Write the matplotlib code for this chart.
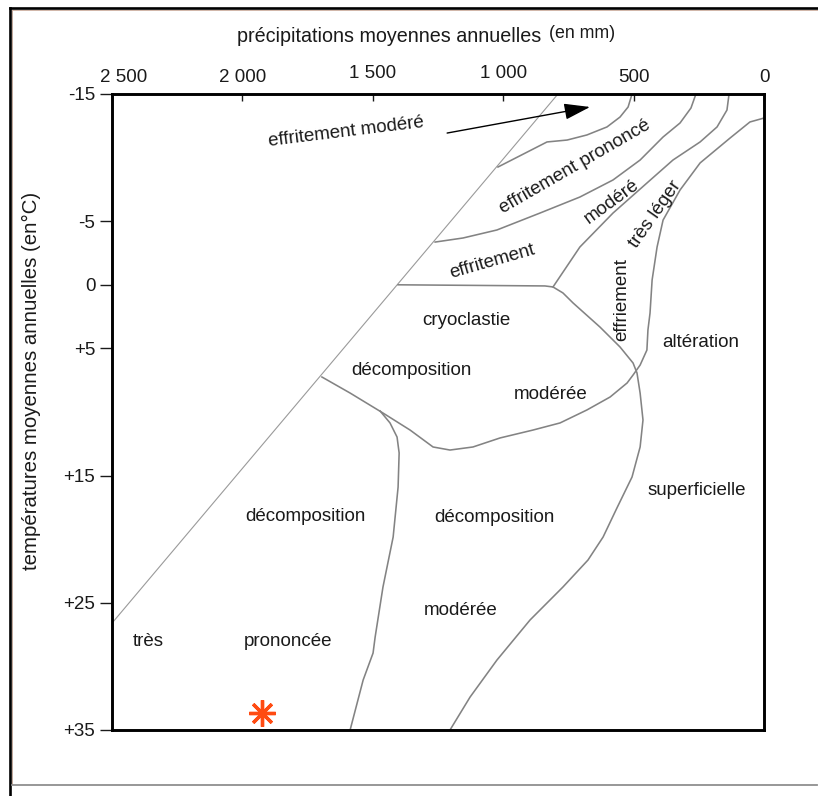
import matplotlib
matplotlib.use("Agg")
import matplotlib.pyplot as plt
from matplotlib.lines import Line2D
from matplotlib.transforms import ScaledTranslation

plt.rcParams['font.family'] = ['Liberation Sans', 'DejaVu Sans']

# ---------------- axis ticks ----------------
precip_ticks = [2500, 2000, 1500, 1000, 500, 0]
precip_labels = ["2 500", "2 000", "1 500", "1 000", "500", "0"]
temp_ticks = [-15, -5, 0, 5, 15, 25, 35]
temp_labels = ["-15", "-5", "0", "+5", "+15", "+25", "+35"]

# ---------------- boundaries (precipitation mm, temperature °C) ----------------
diag_p = [2500, 790]
diag_t = [26.6, -15.0]

prononce_top_p = [506, 521, 552, 602, 679, 755, 832, 1020]
prononce_top_t = [-15.0, -13.98, -13.19, -12.41, -11.78, -11.38, -11.23, -9.26]

prononce_bot_p = [261, 280, 322, 387, 475, 579, 706, 859, 1024, 1154, 1261]
prononce_bot_t = [-15.0, -13.90, -12.72, -11.62, -9.81, -8.24, -6.90, -5.64, -4.31, -3.68, -3.36]

modere_bot_p = [134, 142, 180, 245, 349, 449, 579, 706, 809]
modere_bot_t = [-15.0, -13.74, -12.41, -11.23, -9.81, -8.00, -5.64, -2.97, 0.17]

leger_bot_p = [0, 54, 130, 245, 322, 387, 410, 429, 437, 445, 449, 475, 502, 525,
               590, 679, 782, 886, 1012, 1116, 1204, 1269, 1357, 1461, 1587, 1695]
leger_bot_t = [-13.11, -12.80, -11.54, -9.58, -7.45, -5.09, -2.97, -0.38, 2.22, 3.55,
               5.13, 6.31, 7.09, 7.72, 8.82, 9.84, 10.86, 11.42, 12.04, 12.75, 12.99,
               12.75, 11.42, 10.08, 8.51, 7.25]

zero_line_p = [1403, 840, 809, 771, 732, 629, 552, 502, 487, 475, 464, 475, 506,
               564, 617, 675, 771, 897, 1024, 1127, 1204]
zero_line_t = [0.0, 0.09, 0.17, 0.64, 1.43, 3.32, 4.89, 6.15, 6.93, 8.51, 10.63,
               12.75, 15.11, 17.55, 19.83, 21.64, 23.76, 26.35, 29.50, 32.41, 35.0]

separator_p = [1472, 1434, 1407, 1399, 1403, 1422, 1461, 1491, 1499, 1537, 1587]
separator_t = [9.92, 10.86, 11.97, 13.22, 15.90, 19.83, 23.76, 27.69, 28.95, 31.07, 35.0]

arrow_p = [1215, 667]
arrow_t = [-11.93, -13.98]

star_p = [1925]
star_t = [33.7]

# ---------------- figure ----------------
W, H = 818, 796
fig = plt.figure(figsize=(W / 100, H / 100), dpi=100)
fig.patch.set_facecolor('white')

def fx(x):
    return x / W

def fy(y):
    return 1 - y / H

# page frame
fig.add_artist(Line2D([fx(10), fx(10)], [fy(8), fy(796)], color='black', lw=1.9,
                      transform=fig.transFigure))
fig.add_artist(Line2D([fx(10), fx(818)], [fy(8), fy(8)], color='black', lw=1.9,
                      transform=fig.transFigure))
fig.add_artist(Line2D([fx(12.3), fx(12.3)], [fy(10), fy(784)], color='#b59888', lw=0.6,
                      transform=fig.transFigure))
fig.add_artist(Line2D([fx(12), fx(818)], [fy(10.3), fy(10.3)], color='#c9aa9a', lw=0.6,
                      transform=fig.transFigure))
fig.add_artist(Line2D([fx(12), fx(817)], [fy(785), fy(785)], color='#8f8f8f', lw=1.3,
                      transform=fig.transFigure))

ax = fig.add_axes([112 / W, 1 - 730 / H, 652 / W, 636 / H])
ax.set_xlim(2500, 0)
ax.set_ylim(35, -15)

for s in ax.spines.values():
    s.set_linewidth(2.1)
    s.set_color('black')

ax.xaxis.tick_top()
ax.set_xticks(precip_ticks)
ax.set_xticklabels(precip_labels)
ax.set_yticks(temp_ticks)
ax.set_yticklabels(temp_labels)
ax.tick_params(axis='x', direction='in', length=5, width=1, pad=6, labelsize=13.5,
               colors='#1a1a1a')
ax.tick_params(axis='y', direction='out', length=9, width=1, pad=3, labelsize=13.5,
               colors='#1a1a1a')

xlabs = ax.get_xticklabels()
xlabs[0].set_transform(xlabs[0].get_transform() + ScaledTranslation(0.12, 0, fig.dpi_scale_trans))
for i in (2, 3):
    xlabs[i].set_transform(xlabs[i].get_transform() + ScaledTranslation(0, 0.04, fig.dpi_scale_trans))

line_col = '#838383'
ax.plot(diag_p, diag_t, color='#9a9a9a', lw=0.8, solid_capstyle='butt')
for p, t in [(prononce_top_p, prononce_top_t), (prononce_bot_p, prononce_bot_t),
             (modere_bot_p, modere_bot_t), (leger_bot_p, leger_bot_t),
             (zero_line_p, zero_line_t), (separator_p, separator_t)]:
    ax.plot(p, t, color=line_col, lw=1.15, solid_joinstyle='round')

ax.annotate('', xy=(arrow_p[1], arrow_t[1]), xytext=(arrow_p[0], arrow_t[0]),
            arrowprops=dict(arrowstyle='-|>,head_length=1.6,head_width=0.5',
                            color='black', lw=1.0, shrinkA=0, shrinkB=0))

ax.plot(star_p, star_t, linestyle='none', marker=(8, 2, 0), markersize=19,
        markeredgewidth=2.4, color='#ff4b12', clip_on=False)

# ---------------- region labels ----------------
txt = dict(fontsize=13.5, color='#1a1a1a', ha='center', va='center',
           rotation_mode='anchor')
ax.text(1603, -12.01, "effritement modéré", rotation=7, **txt)
ax.text(725, -9.26, "effritement prononcé", rotation=30, **txt)
ax.text(583, -6.51, "modéré", rotation=36, **txt)
ax.text(418, -5.57, "très léger", rotation=55, **txt)
ax.text(1043, -1.79, "effritement", rotation=16, **txt)
ax.text(1142, 2.77, "cryoclastie", **txt)
ax.text(1353, 6.70, "décomposition", **txt)
ax.text(817, 8.66, "modérée", **txt)
ax.text(544, 1.19, "effriement", rotation=90, **txt)
ax.text(242, 4.50, "altération", **txt)
ax.text(257, 16.21, "superficielle", **txt)
ax.text(1760, 18.25, "décomposition", **txt)
ax.text(1035, 18.33, "décomposition", **txt)
ax.text(1162, 25.64, "modérée", **txt)
ax.text(2362, 28.08, "très", **txt)
ax.text(1825, 28.08, "prononcée", **txt)

# ---------------- axis titles ----------------
fig.text(fx(541), fy(37), "précipitations moyennes annuelles", fontsize=14.2,
         color='#1a1a1a', ha='right', va='center')
fig.text(fx(549), fy(34), "(en mm)", fontsize=12.8, color='#1a1a1a',
         ha='left', va='center')
fig.text(fx(31), fy(381), "températures moyennes annuelles (en°C)", fontsize=14.7,
         color='#1a1a1a', ha='center', va='center', rotation=90)

fig.savefig("out.png", dpi=100, facecolor='white')
